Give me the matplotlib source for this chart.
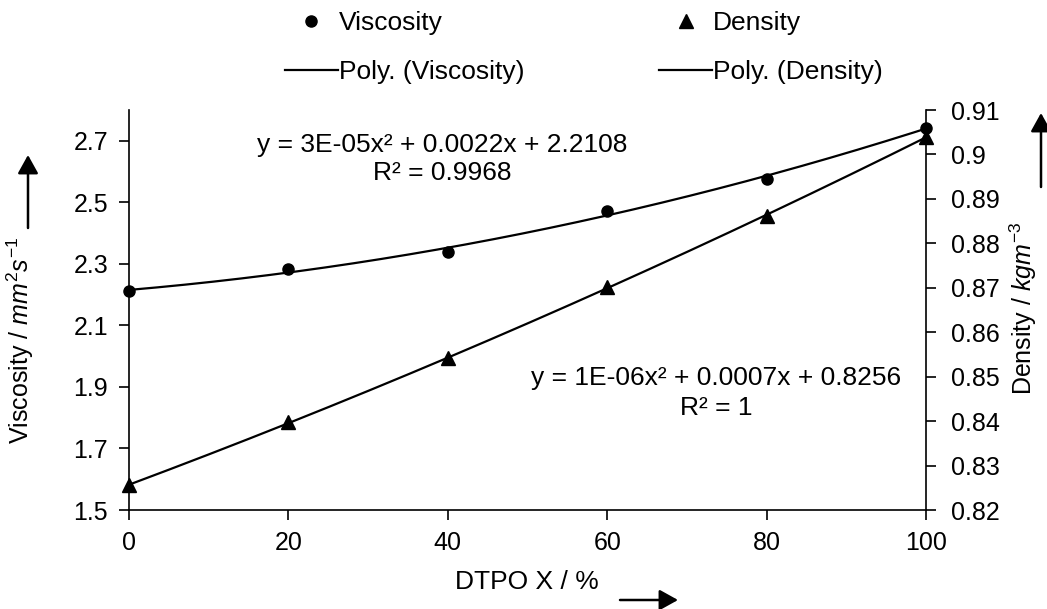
import numpy as np
import matplotlib
matplotlib.use("Agg")
import matplotlib.pyplot as plt
from matplotlib.lines import Line2D

plt.rcParams['font.family'] = ['Liberation Sans', 'DejaVu Sans']
plt.rcParams['mathtext.fontset'] = 'custom'
plt.rcParams['mathtext.rm'] = 'Liberation Sans'
plt.rcParams['mathtext.it'] = 'Liberation Sans:italic'

# data
dtpo = [0, 20, 40, 60, 80, 100]
viscosity = [2.212, 2.282, 2.338, 2.472, 2.576, 2.743]
density = [0.8256, 0.8397, 0.8542, 0.8701, 0.8861, 0.9040]

x_ticks = [0, 20, 40, 60, 80, 100]
visc_ticks = [1.5, 1.7, 1.9, 2.1, 2.3, 2.5, 2.7]
dens_ticks = [0.82, 0.83, 0.84, 0.85, 0.86, 0.87, 0.88, 0.89, 0.90, 0.91]

visc_eq = "y = 3E-05x² + 0.0022x + 2.2108"
visc_r2 = "R² = 0.9968"
dens_eq = "y = 1E-06x² + 0.0007x + 0.8256"
dens_r2 = "R² = 1"

W, H = 1047, 609
fig = plt.figure(figsize=(W / 100, H / 100), dpi=100)
ax = fig.add_axes([129 / W, 1 - 510 / H, (926 - 129) / W, (510 - 110) / H])
ax2 = ax.twinx()

fs = 18
fs_txt = 19
lw = 1.6

# second order trendlines
xs = np.linspace(min(dtpo), max(dtpo), 200)
pv = np.polyfit(dtpo, viscosity, 2)
pd_ = np.polyfit(dtpo, density, 2)

ax.plot(xs, np.polyval(pv, xs), color='black', lw=lw)
ax.plot(dtpo, viscosity, 'o', color='black', ms=8, clip_on=False)
ax2.plot(xs, np.polyval(pd_, xs), color='black', lw=lw)
ax2.plot(dtpo, density, '^', color='black', ms=9.5, clip_on=False)

ax.set_xlim(0, 100)
ax.set_ylim(1.5, 2.8)
ax2.set_ylim(0.82, 0.91)

ax.set_xticks(x_ticks)
ax.set_xticklabels([str(v) for v in x_ticks])
ax.set_yticks(visc_ticks)
ax.set_yticklabels(['{:g}'.format(v) for v in visc_ticks])
ax2.set_yticks(dens_ticks)
ax2.set_yticklabels(['{:g}'.format(v) for v in dens_ticks])

for a in (ax, ax2):
    a.spines['top'].set_visible(False)
    for s in a.spines.values():
        s.set_linewidth(1.2)
    a.tick_params(labelsize=fs, width=1.2, length=7, direction='out')
ax.spines['right'].set_visible(False)
ax2.spines['left'].set_visible(False)
ax2.spines['bottom'].set_visible(False)
ax.tick_params(axis='y', pad=8)
ax.tick_params(axis='x', pad=8)
ax2.tick_params(axis='y', pad=11)

# axis labels
fig.text(527 / W, 1 - 582 / H, "DTPO X / %", fontsize=fs_txt, ha='center', va='center')
fig.text(20 / W, 1 - 340 / H, r"Viscosity / $\mathit{mm}^{2}\mathit{s}^{-1}$",
         fontsize=fs, rotation=90, ha='center', va='center')
fig.text(1023 / W, 1 - 308 / H, r"Density / $\mathit{kgm}^{-3}$",
         fontsize=fs, rotation=90, ha='center', va='center')

# arrows next to labels
arr = dict(arrowstyle='-|>,head_length=0.45,head_width=0.25', color='black',
           lw=1.8, shrinkA=0, shrinkB=0, mutation_scale=25)
ax.annotate('', xy=(28, H - 155), xytext=(28, H - 228), xycoords='figure pixels',
            textcoords='figure pixels', arrowprops=arr, annotation_clip=False)
ax.annotate('', xy=(1041, H - 113), xytext=(1041, H - 187), xycoords='figure pixels',
            textcoords='figure pixels', arrowprops=arr, annotation_clip=False)
ax.annotate('', xy=(678, H - 600), xytext=(620, H - 600), xycoords='figure pixels',
            textcoords='figure pixels', arrowprops=arr, annotation_clip=False)

# trendline equations
fig.text(442 / W, 1 - 145 / H, visc_eq, fontsize=fs_txt, ha='center', va='center')
fig.text(442 / W, 1 - 173 / H, visc_r2, fontsize=fs_txt, ha='center', va='center')
fig.text(716 / W, 1 - 378 / H, dens_eq, fontsize=fs_txt, ha='center', va='center')
fig.text(716 / W, 1 - 408 / H, dens_r2, fontsize=fs_txt, ha='center', va='center')

# legend
handles = [
    Line2D([], [], marker='o', ls='none', color='black', ms=8),
    Line2D([], [], color='black', lw=lw),
    Line2D([], [], marker='^', ls='none', color='black', ms=9.5),
    Line2D([], [], color='black', lw=lw),
]
labels = ["Viscosity", "Poly. (Viscosity)", "Density", "Poly. (Density)"]
fig.legend(handles, labels, ncol=2, loc='upper left', frameon=False, fontsize=fs_txt,
           bbox_to_anchor=(285 / W, 1 - 11 / H), borderpad=0, borderaxespad=0,
           handlelength=2.0, handletextpad=0.05, columnspacing=5.1, labelspacing=0.95)

fig.savefig("out.png", dpi=100)
